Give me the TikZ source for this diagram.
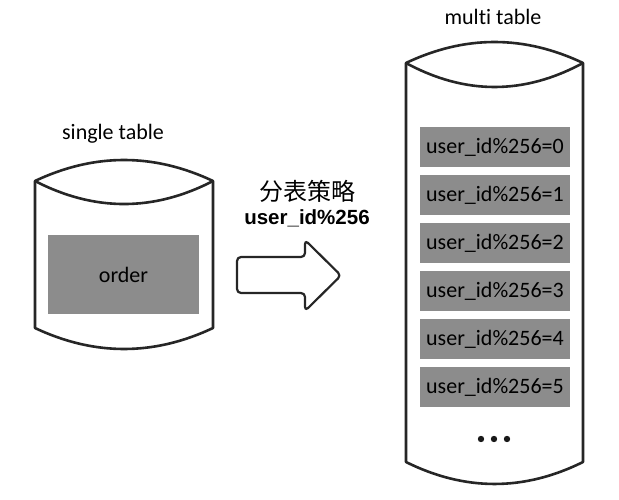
\documentclass[tikz,border=0pt]{standalone}
\usepackage{fontspec}
\setmainfont{Carlito}[Ligatures=NoCommon]
\newfontfamily\cjkfont{Noto Sans CJK SC}
\newfontfamily\arialfont{Liberation Sans}
\begin{document}
\begin{tikzpicture}[x=1pt,y=-1pt,
  cyl/.style={line width=2.6pt,draw=black!85,line join=round},
  tbl/.style={fill=black!45,draw=none},
  tbltext/.style={font=\fontsize{22}{26}\selectfont,text=black},
  label/.style={font=\fontsize{22}{26}\selectfont,text=black},
  arrowshape/.style={line width=2.2pt,draw=black!85,rounded corners=4pt,line join=round}]
\useasboundingbox (0,0) rectangle (619,500);
% left cylinder
\draw[cyl] (35,181) .. controls (94.3,153) and (153.7,153) .. (213,181)
  -- (213,328) .. controls (153.7,356) and (94.3,356) .. (35,328) -- cycle;
\draw[cyl] (35,181) .. controls (94.3,211.7) and (153.7,211.7) .. (213,181);
\fill[tbl] (48,235) rectangle (199,314);
\node[tbltext] (order) at (123.5,275) {order};
\node[label] (single) at (113,134) {single table};
% right cylinder
\draw[cyl] (406,63) .. controls (465,35) and (524,35) .. (583,63)
  -- (583,462) .. controls (524,491.3) and (465,491.3) .. (406,462) -- cycle;
\draw[cyl] (406,63) .. controls (465,95) and (524,95) .. (583,63);
\node[label] (multi) at (493,17) {multi table};
\foreach \i in {0,...,5}{
  \fill[tbl] (420,127+48*\i) rectangle (570,167+48*\i);
  \node[tbltext] (r\i) at (495,147+48*\i) {user\_id\%256=\i};
}
\foreach \dx in {-13,0,13}{
  \fill[black!90] (494+\dx,439) circle (3.2);
}
% arrow
\draw[arrowshape] (237,257) -- (305,257) -- (305,240) -- (341,275.5) -- (305,311) -- (305,293) -- (237,293) -- cycle;
\node[font=\cjkfont\fontsize{24}{28}\selectfont] (cn) at (307,191) {分表策略};
\node[font=\arialfont\bfseries\fontsize{20.5}{24}\selectfont] (uid) at (307,218) {user\_id\%256};
\end{tikzpicture}
\end{document}
